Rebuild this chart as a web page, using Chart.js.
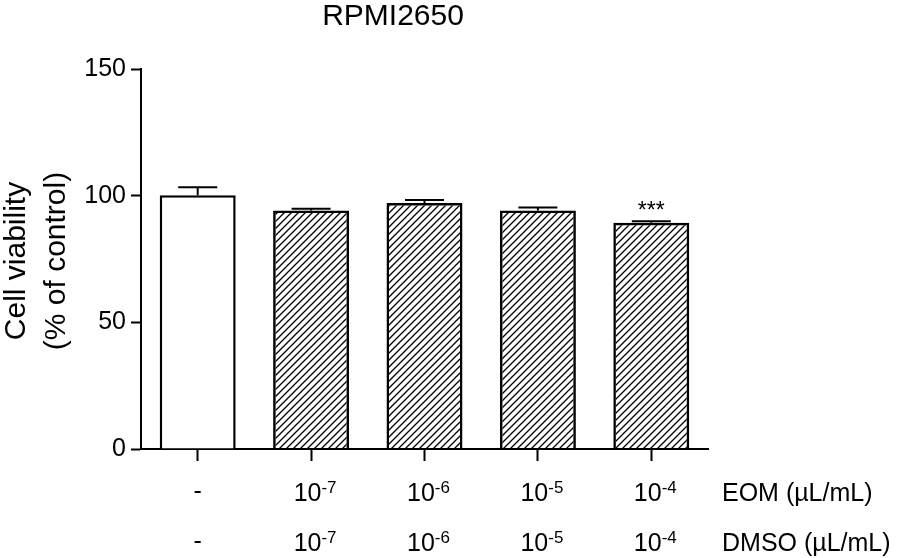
<!DOCTYPE html>
<html>
<head>
<meta charset="utf-8">
<script src="https://cdn.jsdelivr.net/npm/chart.js@4/dist/chart.umd.min.js"></script>
<style>
    body { margin: 0; background: #fff; }
</style>
</head>
<body>
<canvas id="myChart" width="900" height="558"></canvas>
<script>
const categories = ['Control', '1e-7', '1e-6', '1e-5', '1e-4'];
const eomExponents = [null, -7, -6, -5, -4];
const dmsoExponents = [null, -7, -6, -5, -4];
const viability = [100.2, 94.1, 97.1, 94.1, 89.3];
const sem = [3.1, 0.7, 1.2, 1.2, 0.6];
const significance = ['', '', '', '', '***'];
const yTicks = [0, 50, 100, 150];

const FONT = '"Liberation Sans", Arial, sans-serif';

// diagonal hatch fill for the treated bars
function hatch() {
    const c = document.createElement('canvas');
    c.width = 7;
    c.height = 7;
    const x = c.getContext('2d');
    x.strokeStyle = '#000';
    x.lineWidth = 1.3;
    x.beginPath();
    x.moveTo(0, 7); x.lineTo(7, 0);
    x.moveTo(-1, 1); x.lineTo(1, -1);
    x.moveTo(6, 8); x.lineTo(8, 6);
    x.stroke();
    return x.createPattern(c, 'repeat');
}
const pat = hatch();
const fills = categories.map((c, i) => i == 0 ? '#fff' : pat);

const extras = {
    id: 'extras',
    afterDatasetsDraw(chart) {
        const ctx = chart.ctx;
        const y = chart.scales.y;
        const meta = chart.getDatasetMeta(0);
        ctx.save();
        ctx.strokeStyle = '#000';
        ctx.lineWidth = 2;
        // upper error whiskers
        for (let i = 0; i < viability.length; i++) {
            const cx = meta.data[i].x;
            const top = y.getPixelForValue(viability[i] + sem[i]);
            const base = y.getPixelForValue(viability[i]);
            ctx.beginPath();
            ctx.moveTo(cx, base);
            ctx.lineTo(cx, top);
            ctx.moveTo(cx - 19.5, top);
            ctx.lineTo(cx + 19.5, top);
            ctx.stroke();
            if (significance[i]) {
                ctx.fillStyle = '#000';
                ctx.font = '23px ' + FONT;
                ctx.textAlign = 'center';
                ctx.textBaseline = 'alphabetic';
                ctx.fillText(significance[i], cx, top - 3);
            }
        }
        ctx.restore();
    },
    afterDraw(chart) {
        const ctx = chart.ctx;
        const x = chart.scales.x;
        ctx.save();
        ctx.fillStyle = '#000';
        ctx.textBaseline = 'alphabetic';

        // title
        ctx.font = '30px ' + FONT;
        ctx.textAlign = 'center';
        ctx.fillText('RPMI2650', 393, 25);

        // y axis title, two lines
        ctx.save();
        ctx.translate(25, 261);
        ctx.rotate(-Math.PI / 2);
        ctx.fillText('Cell viability', 0, 0);
        ctx.restore();
        ctx.save();
        ctx.translate(65, 261);
        ctx.rotate(-Math.PI / 2);
        ctx.fillText('(% of control)', 0, 0);
        ctx.restore();

        // x labels with superscript exponents
        const rows = [[eomExponents, 501], [dmsoExponents, 551]];
        for (const [exps, by] of rows) {
            for (let i = 0; i < exps.length; i++) {
                const cx = x.getPixelForTick(i);
                if (exps[i] === null) {
                    ctx.font = '25px ' + FONT;
                    ctx.textAlign = 'center';
                    ctx.fillText('-', cx, by - 2);
                    continue;
                }
                ctx.font = '25px ' + FONT;
                const w1 = ctx.measureText('10').width;
                ctx.font = '17px ' + FONT;
                const sup = String(exps[i]);
                const w2 = ctx.measureText(sup).width;
                const left = cx + 4 - (w1 + w2) / 2;
                ctx.textAlign = 'left';
                ctx.font = '25px ' + FONT;
                ctx.fillText('10', left, by);
                ctx.font = '17px ' + FONT;
                ctx.fillText(sup, left + w1, by - 8);
            }
        }
        ctx.font = '25px ' + FONT;
        ctx.textAlign = 'left';
        ctx.fillText('EOM (\u00b5L/mL)', 722, 501);
        ctx.fillText('DMSO (\u00b5L/mL)', 722, 551);
        ctx.restore();
    }
};

const data = {
    labels: categories,
    datasets: [{
        data: viability,
        backgroundColor: fills,
        borderColor: '#000',
        borderWidth: 2.5,
        categoryPercentage: 1,
        barPercentage: 0.67
    }]
};

const options = {
    responsive: false,
    animation: false,
    devicePixelRatio: 1,
    layout: { padding: { left: 0, right: 192, top: 69, bottom: 109 } },
    plugins: {
        legend: { display: false },
        tooltip: { enabled: false },
        title: { display: false }
    },
    scales: {
        x: {
            offset: true,
            grid: {
                offset: false,
                drawOnChartArea: false,
                drawTicks: true,
                tickLength: 12,
                tickWidth: 2,
                tickColor: '#000'
            },
            border: { display: true, color: '#000', width: 2 },
            ticks: { display: false },
            afterFit(scale) { scale.height = 0; }
        },
        y: {
            min: 0,
            max: 150,
            grid: {
                drawOnChartArea: false,
                drawTicks: true,
                tickLength: 10,
                tickWidth: 2,
                tickColor: '#000'
            },
            border: { display: true, color: '#000', width: 2 },
            ticks: {
                color: '#000',
                padding: 5,
                font: { family: FONT, size: 25 }
            },
            afterBuildTicks(scale) { scale.ticks = yTicks.map(v => ({ value: v })); },
            afterFit(scale) { scale.width = 141; }
        }
    }
};

const config = {
    type: 'bar',
    data,
    options,
    plugins: [extras]
};

var myChart = new Chart(
    document.getElementById('myChart'),
    config
);
</script>
</body>
</html>
